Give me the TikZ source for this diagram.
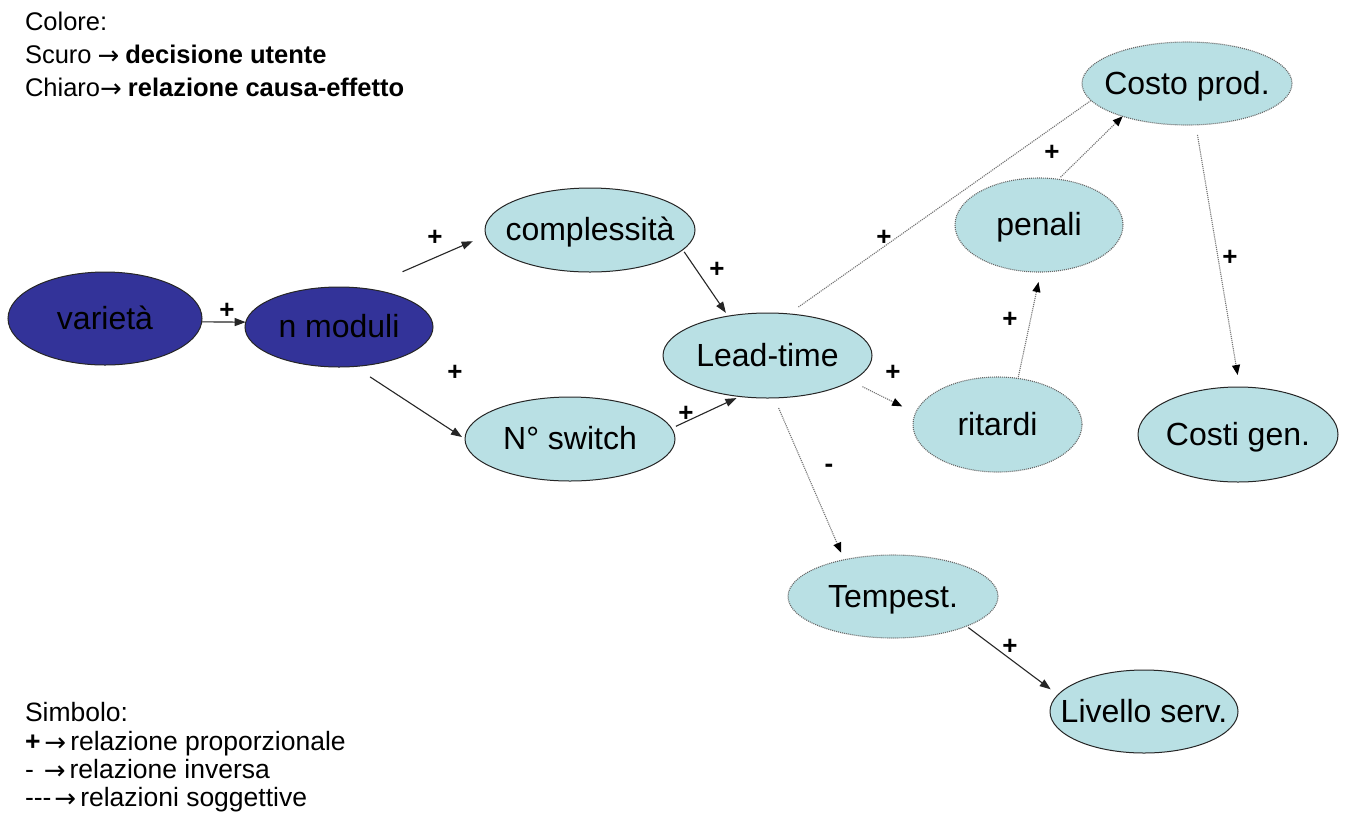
\documentclass[tikz,border=0pt]{standalone}
\usepackage{fontspec}
\setmainfont{Liberation Sans}
\newfontfamily\arrowfont{DejaVu Sans}
\newcommand\legarrow[1][26]{\raisebox{-1pt}{\arrowfont\fontsize{#1}{30}\selectfont →}}
\usetikzlibrary{shapes.geometric,arrows.meta}
\definecolor{navyfill}{RGB}{51,51,153}
\definecolor{cyanfill}{RGB}{185,224,228}
\begin{document}
\begin{tikzpicture}[x=1pt,y=-1pt,
  every node/.style={inner sep=0pt, outer sep=0pt},
  bubble/.style={ellipse, fill=cyanfill, draw=black!85, line width=1pt,
    font=\fontsize{32}{38}\selectfont, text height=27pt, text depth=6pt},
  dark/.style={bubble, fill=navyfill},
  soft/.style={bubble, draw=black!60, densely dotted, line width=1.1pt},
  size/.style 2 args={minimum width=#1, minimum height=#2},
  solidarr/.style={draw=black!85, line width=1.1pt,
    -{Triangle[length=11pt,width=8pt]}},
  dotline/.style={draw=black!55, line width=1.1pt, densely dotted},
  dotarr/.style={dotline, -{Triangle[length=10pt,width=8pt,color=black]}},
  sign/.style={font=\fontsize{26}{30}\selectfont\bfseries},
  legend/.style={font=\fontsize{25.5}{30}\selectfont, anchor=base west},
  legendb/.style={font=\fontsize{26.5}{30}\selectfont, anchor=base west},
]
\fill[white] (0,0) rectangle (1346,815);
\useasboundingbox (0,0) rectangle (1346,815);

% user decisions (dark)
\node[dark, size={194}{93}] (var)  at (105,318.5) {\makebox[0pt]{varietà}};
\node[dark, size={188}{80}] (nmod) at (339,327)   {\makebox[0pt]{n moduli}};

% cause-effect nodes (light)
\node[bubble, size={210}{84}] (compl)   at (590,230)    {\makebox[0pt]{complessità}};
\node[bubble, size={210}{84}] (switch)  at (570,439)    {\makebox[0pt]{N° switch}};
\node[bubble, size={209}{85}] (lead)    at (767.5,355.5){\makebox[0pt]{Lead-time}};
\node[soft,   size={210}{83}] (costo)   at (1187,83.5)  {\makebox[0pt]{Costo prod.}};
\node[soft,   size={168}{94}] (penali)  at (1039,225)   {\makebox[0pt]{penali}};
\node[soft,   size={169}{95}] (ritardi) at (997.5,424.5){\makebox[0pt]{ritardi}};
\node[bubble, size={200}{95}] (costig)  at (1238,434.5) {\makebox[0pt]{Costi gen.}};
\node[soft,   size={210}{83}] (tempest) at (893,596.5)  {\makebox[0pt]{Tempest.}};
\node[bubble, size={188}{83}] (livello) at (1144,711.5) {\makebox[0pt]{Livello serv.}};

% objective relations (solid)
\draw[solidarr] (var.-2.7) -- (nmod.177.6);
\draw[solidarr, shorten <=42pt, shorten >=14.4pt] (nmod.57.9) -- (compl.183.5);
\draw[solidarr, shorten <=19pt, shorten >=3.6pt] (nmod.-69) -- (switch.180.5);
\draw[solidarr, shorten <=2.6pt, shorten >=4pt] (compl.-12.1) -- (lead.135.8);
\draw[solidarr, shorten <=4.8pt, shorten >=3.8pt] (switch.6.9) -- (lead.236.6);
\draw[solidarr, shorten <=2.3pt, shorten >=9.1pt] (tempest.-22.6) -- (livello.169.5);

% subjective relations (dotted)
\draw[dotline, shorten <=11.9pt] (lead.63.5) -- (costo.190.3);
\draw[dotarr, shorten <=3pt] (penali.67.7) -- (costo.207.5);
\draw[dotarr, shorten <=1.4pt, shorten >=10.3pt] (ritardi.66.3) -- (penali.-88.7);
\draw[dotarr, shorten <=12.8pt, shorten >=14.9pt] (lead.-17.2) -- (ritardi.172.4);
\draw[dotarr, shorten <=11pt, shorten >=7.7pt] (lead.-81.7) -- (tempest.143.9);
\draw[dotarr, shorten <=10.2pt, shorten >=12.2pt] (costo.-78.7) -- (costig.88.8);

% relation signs
\node[sign] (s1)  at (227,311)  {+};
\node[sign] (s2)  at (435,238)  {+};
\node[sign] (s3)  at (455,373)  {+};
\node[sign] (s4)  at (717,270)  {+};
\node[sign] (s5)  at (686,414)  {+};
\node[sign] (s6)  at (884,238)  {+};
\node[sign] (s7)  at (1052,153) {+};
\node[sign] (s8)  at (1010,320) {+};
\node[sign] (s9)  at (893,373)  {+};
\node[sign] (s10) at (829,468)  {-};
\node[sign] (s11) at (1230,258) {+};
\node[sign] (s12) at (1010,647) {+};

% legend: colours
\node[legend] (c1) at (25,30.7) {Colore:};
\node[legend] (c2) at (25,63.5) {Scuro\hspace{6pt}\legarrow\hspace{6pt}\textbf{decisione utente}};
\node[legend] (c3) at (25,96.5) {Chiaro\legarrow\hspace{6pt}\textbf{relazione causa-effetto}};

% legend: symbols
\node[legendb] (y1) at (25,721) {Simbolo:};
\node[legendb] (y2) at (25,750) {\textbf{+}\hspace{4pt}\legarrow\hspace{4pt}relazione proporzionale};
\node[legendb] (y3) at (25,778.5) {-\hspace{10pt}\legarrow\hspace{4pt}relazione inversa};
\node[legendb] (y4) at (25,806.5) {-{}-{}-\hspace{3pt}\legarrow\hspace{4pt}relazioni soggettive};
\end{tikzpicture}
\end{document}
